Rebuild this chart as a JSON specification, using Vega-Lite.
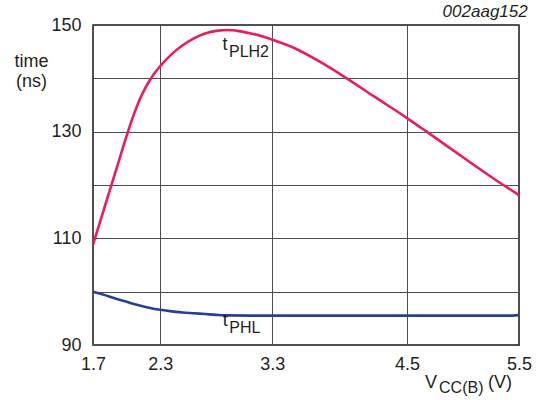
{
  "$schema": "https://vega.github.io/schema/vega-lite/v6.json",
  "width": 426,
  "height": 320,
  "autosize": "none",
  "padding": {"left": 93, "top": 25, "right": 18, "bottom": 55},
  "config": {
    "font": "Liberation Sans",
    "view": {"stroke": "#1a1a1a", "strokeWidth": 1.5},
    "text": {"font": "Liberation Sans", "color": "#231f20"}
  },
  "datasets": {
    "curves": [
      {"series": "tPLH2", "vcc": 1.7, "time": 108.8},
      {"series": "tPLH2", "vcc": 1.8, "time": 115.6},
      {"series": "tPLH2", "vcc": 1.9, "time": 122.4},
      {"series": "tPLH2", "vcc": 2.0, "time": 129.2},
      {"series": "tPLH2", "vcc": 2.05, "time": 132.4},
      {"series": "tPLH2", "vcc": 2.1, "time": 135.2},
      {"series": "tPLH2", "vcc": 2.15, "time": 137.5},
      {"series": "tPLH2", "vcc": 2.2, "time": 139.4},
      {"series": "tPLH2", "vcc": 2.25, "time": 141.0},
      {"series": "tPLH2", "vcc": 2.3, "time": 142.3},
      {"series": "tPLH2", "vcc": 2.4, "time": 144.5},
      {"series": "tPLH2", "vcc": 2.5, "time": 146.2},
      {"series": "tPLH2", "vcc": 2.6, "time": 147.5},
      {"series": "tPLH2", "vcc": 2.7, "time": 148.4},
      {"series": "tPLH2", "vcc": 2.8, "time": 148.9},
      {"series": "tPLH2", "vcc": 2.9, "time": 149.05},
      {"series": "tPLH2", "vcc": 3.0, "time": 148.85},
      {"series": "tPLH2", "vcc": 3.1, "time": 148.45},
      {"series": "tPLH2", "vcc": 3.2, "time": 147.95},
      {"series": "tPLH2", "vcc": 3.3, "time": 147.25},
      {"series": "tPLH2", "vcc": 3.5, "time": 145.65},
      {"series": "tPLH2", "vcc": 3.7, "time": 143.4},
      {"series": "tPLH2", "vcc": 3.963, "time": 140.0},
      {"series": "tPLH2", "vcc": 4.2, "time": 136.7},
      {"series": "tPLH2", "vcc": 4.498, "time": 132.6},
      {"series": "tPLH2", "vcc": 4.676, "time": 130.0},
      {"series": "tPLH2", "vcc": 5.0, "time": 125.2},
      {"series": "tPLH2", "vcc": 5.36, "time": 120.0},
      {"series": "tPLH2", "vcc": 5.5, "time": 118.1},
      {"series": "tPHL", "vcc": 1.7, "time": 100.0},
      {"series": "tPHL", "vcc": 1.8, "time": 99.4},
      {"series": "tPHL", "vcc": 1.9, "time": 98.7},
      {"series": "tPHL", "vcc": 2.0, "time": 98.1},
      {"series": "tPHL", "vcc": 2.1, "time": 97.5},
      {"series": "tPHL", "vcc": 2.2, "time": 97.0},
      {"series": "tPHL", "vcc": 2.3, "time": 96.6},
      {"series": "tPHL", "vcc": 2.4, "time": 96.3},
      {"series": "tPHL", "vcc": 2.5, "time": 96.1},
      {"series": "tPHL", "vcc": 2.6, "time": 95.95},
      {"series": "tPHL", "vcc": 2.7, "time": 95.8},
      {"series": "tPHL", "vcc": 2.8, "time": 95.65},
      {"series": "tPHL", "vcc": 2.9, "time": 95.55},
      {"series": "tPHL", "vcc": 3.2, "time": 95.5},
      {"series": "tPHL", "vcc": 4.0, "time": 95.5},
      {"series": "tPHL", "vcc": 5.4, "time": 95.5},
      {"series": "tPHL", "vcc": 5.5, "time": 95.6}
    ],
    "curveLabels": [
      {"main": "t", "sub": "PLH2", "vcc": 2.855, "time": 145.3},
      {"main": "t", "sub": "PHL", "vcc": 2.857, "time": 93.6}
    ],
    "xTitle": [
      {"main": "V", "sub": "CC(B)", "unit": "(V)", "vcc": 4.662, "time": 81.9}
    ],
    "code": [
      {"label": "002aag152", "vcc": 5.5, "time": 150}
    ]
  },
  "layer": [
    {
      "data": {"name": "curves"},
      "mark": {"type": "line", "interpolate": "monotone", "strokeWidth": 2.6},
      "encoding": {
        "x": {
          "field": "vcc", "type": "quantitative",
          "scale": {"domain": [1.7, 5.5], "nice": false, "zero": false},
          "axis": {
            "title": null,
            "values": [1.7, 2.3, 3.3, 4.5, 5.5],
            "format": ".1f",
            "grid": true, "gridColor": "#4d4d4d", "gridWidth": 1, "gridOpacity": 1,
            "ticks": false, "domain": false,
            "labelFontSize": 18, "labelColor": "#231f20", "labelPadding": 10,
            "labelFont": "Liberation Sans", "labelFlush": false
          }
        },
        "y": {
          "field": "time", "type": "quantitative",
          "scale": {"domain": [90, 150], "nice": false, "zero": false},
          "axis": {
            "title": ["time", "(ns)"],
            "titleAngle": 0, "titleFontSize": 18, "titleFontWeight": "normal",
            "titleFont": "Liberation Sans", "titleColor": "#231f20",
            "titleAlign": "center", "titleBaseline": "alphabetic",
            "titleX": -62, "titleY": 41, "titleLineHeight": 20,
            "values": [90, 100, 110, 120, 130, 140, 150],
            "labelExpr": "datum.value % 20 == 10 ? datum.label : ''",
            "grid": true, "gridColor": "#4d4d4d", "gridWidth": 1, "gridOpacity": 1,
            "ticks": false, "domain": false,
            "labelFontSize": 18, "labelColor": "#231f20", "labelPadding": 12,
            "labelFont": "Liberation Sans", "labelFlush": false
          }
        },
        "color": {
          "field": "series", "type": "nominal",
          "scale": {"domain": ["tPLH2", "tPHL"], "range": ["#ec1c5c", "#26409a"]},
          "legend": null
        }
      }
    },
    {
      "data": {"name": "curveLabels"},
      "mark": {"type": "text", "align": "left", "baseline": "alphabetic", "fontSize": 18},
      "encoding": {
        "x": {"field": "vcc", "type": "quantitative"},
        "y": {"field": "time", "type": "quantitative"},
        "text": {"field": "main"}
      }
    },
    {
      "data": {"name": "curveLabels"},
      "mark": {"type": "text", "align": "left", "baseline": "alphabetic", "fontSize": 16, "dx": 6.5, "dy": 7},
      "encoding": {
        "x": {"field": "vcc", "type": "quantitative"},
        "y": {"field": "time", "type": "quantitative"},
        "text": {"field": "sub"}
      }
    },
    {
      "data": {"name": "xTitle"},
      "mark": {"type": "text", "align": "left", "baseline": "alphabetic", "fontSize": 18},
      "encoding": {
        "x": {"field": "vcc", "type": "quantitative"},
        "y": {"field": "time", "type": "quantitative"},
        "text": {"field": "main"}
      }
    },
    {
      "data": {"name": "xTitle"},
      "mark": {"type": "text", "align": "left", "baseline": "alphabetic", "fontSize": 16, "dx": 14, "dy": 5},
      "encoding": {
        "x": {"field": "vcc", "type": "quantitative"},
        "y": {"field": "time", "type": "quantitative"},
        "text": {"field": "sub"}
      }
    },
    {
      "data": {"name": "xTitle"},
      "mark": {"type": "text", "align": "left", "baseline": "alphabetic", "fontSize": 18, "dx": 63},
      "encoding": {
        "x": {"field": "vcc", "type": "quantitative"},
        "y": {"field": "time", "type": "quantitative"},
        "text": {"field": "unit"}
      }
    },
    {
      "data": {"name": "code"},
      "mark": {"type": "text", "align": "right", "baseline": "alphabetic", "fontSize": 17, "fontStyle": "italic", "dx": 8.7, "dy": -8},
      "encoding": {
        "x": {"field": "vcc", "type": "quantitative"},
        "y": {"field": "time", "type": "quantitative"},
        "text": {"field": "label"}
      }
    }
  ]
}
